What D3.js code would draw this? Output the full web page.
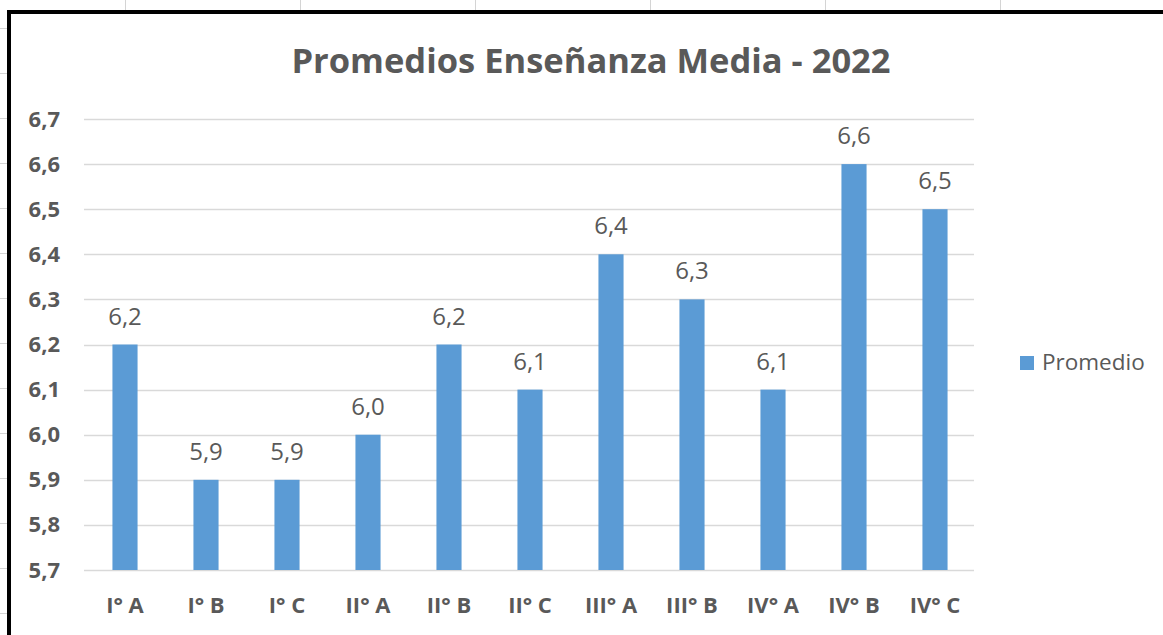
<!DOCTYPE html>
<html><head><meta charset="utf-8">
<script src="https://cdn.jsdelivr.net/npm/d3@7"></script>
<style>html,body{margin:0;padding:0;background:#fff;}svg{display:block;}</style>
</head><body>
<svg id="c" width="1163" height="635"></svg>
<script>
const categories = ["I° A","I° B","I° C","II° A","II° B","II° C","III° A","III° B","IV° A","IV° B","IV° C"];
const values = [6.2,5.9,5.9,6.0,6.2,6.1,6.4,6.3,6.1,6.6,6.5];
const yTicks = [5.7,5.8,5.9,6.0,6.1,6.2,6.3,6.4,6.5,6.6,6.7];
const seriesName = "Promedio";
const title = "Promedios Enseñanza Media - 2022";

const svg = d3.select("#c");
const W = 1163, H = 635;
const fmt = v => d3.format(".1f")(v).replace(".", ",");
const font = "'Open Sans', 'Liberation Sans', sans-serif";
const txt = "#595959";

// spreadsheet background lines outside chart
const bg = svg.append("g").attr("stroke", "#d4d4d4").attr("stroke-width", 1);
[125,300,475,650,825,1000].forEach(x => bg.append("line").attr("x1", x+0.5).attr("x2", x+0.5).attr("y1", 0).attr("y2", 10));
d3.range(28, 635, 45).forEach(y => bg.append("line").attr("x1", 0).attr("x2", 7).attr("y1", y+0.5).attr("y2", y+0.5));

// chart area
svg.append("rect").attr("x", 9).attr("y", 12).attr("width", W+20).attr("height", H+20)
  .attr("fill", "#fff").attr("stroke", "#000").attr("stroke-width", 4);

const x = d3.scaleBand().domain(categories).range([84.5, 975.5]).paddingInner(0.69).paddingOuter(0.345);
const y = d3.scaleLinear().domain([5.7, 6.7]).range([570, 119]);

// gridlines
svg.append("g").selectAll("line").data(yTicks).join("line")
  .attr("x1", 84).attr("x2", 974)
  .attr("y1", d => Math.round(y(d)) + 0.5).attr("y2", d => Math.round(y(d)) + 0.5)
  .attr("stroke", "#d9d9d9").attr("stroke-width", 1.5);

// y axis labels
const yAxis = d3.axisLeft(y).tickValues(yTicks).tickFormat(fmt).tickSize(0).tickPadding(0);
const ya = svg.append("g").attr("transform", "translate(60,0)").call(yAxis);
ya.select(".domain").remove();
ya.selectAll("text").attr("font-family", font).attr("font-weight", "bold").attr("font-size", 22).attr("fill", txt).attr("text-anchor", "end");

// x axis labels
const xAxis = d3.axisBottom(x).tickSize(0).tickPadding(0);
const xa = svg.append("g").attr("transform", "translate(0,613)").call(xAxis);
xa.select(".domain").remove();
xa.selectAll("text").attr("font-family", font).attr("font-weight", "bold").attr("font-size", 22).attr("fill", txt).attr("dy", "0");

// bars
svg.append("g").selectAll("rect").data(values).join("rect")
  .attr("x", (d, i) => x(categories[i])).attr("width", x.bandwidth())
  .attr("y", d => y(d)).attr("height", d => y(5.7) - y(d))
  .attr("fill", "#5b9bd5");

// data labels
svg.append("g").selectAll("text").data(values).join("text")
  .attr("x", (d, i) => x(categories[i]) + x.bandwidth() / 2)
  .attr("y", d => y(d) - 20)
  .attr("text-anchor", "middle").attr("font-family", font).attr("font-size", 24).attr("fill", txt)
  .text(d => fmt(d));

// title
svg.append("text").attr("x", 591).attr("y", 73).attr("text-anchor", "middle")
  .attr("font-family", font).attr("font-weight", "bold").attr("font-size", 34.5).attr("fill", txt)
  .text(title);

// legend
svg.append("rect").attr("x", 1020).attr("y", 356).attr("width", 14).attr("height", 14).attr("fill", "#5b9bd5");
svg.append("text").attr("x", 1042).attr("y", 370).attr("font-family", font).attr("font-size", 22.5).attr("fill", txt).text(seriesName);
</script>
</body></html>
